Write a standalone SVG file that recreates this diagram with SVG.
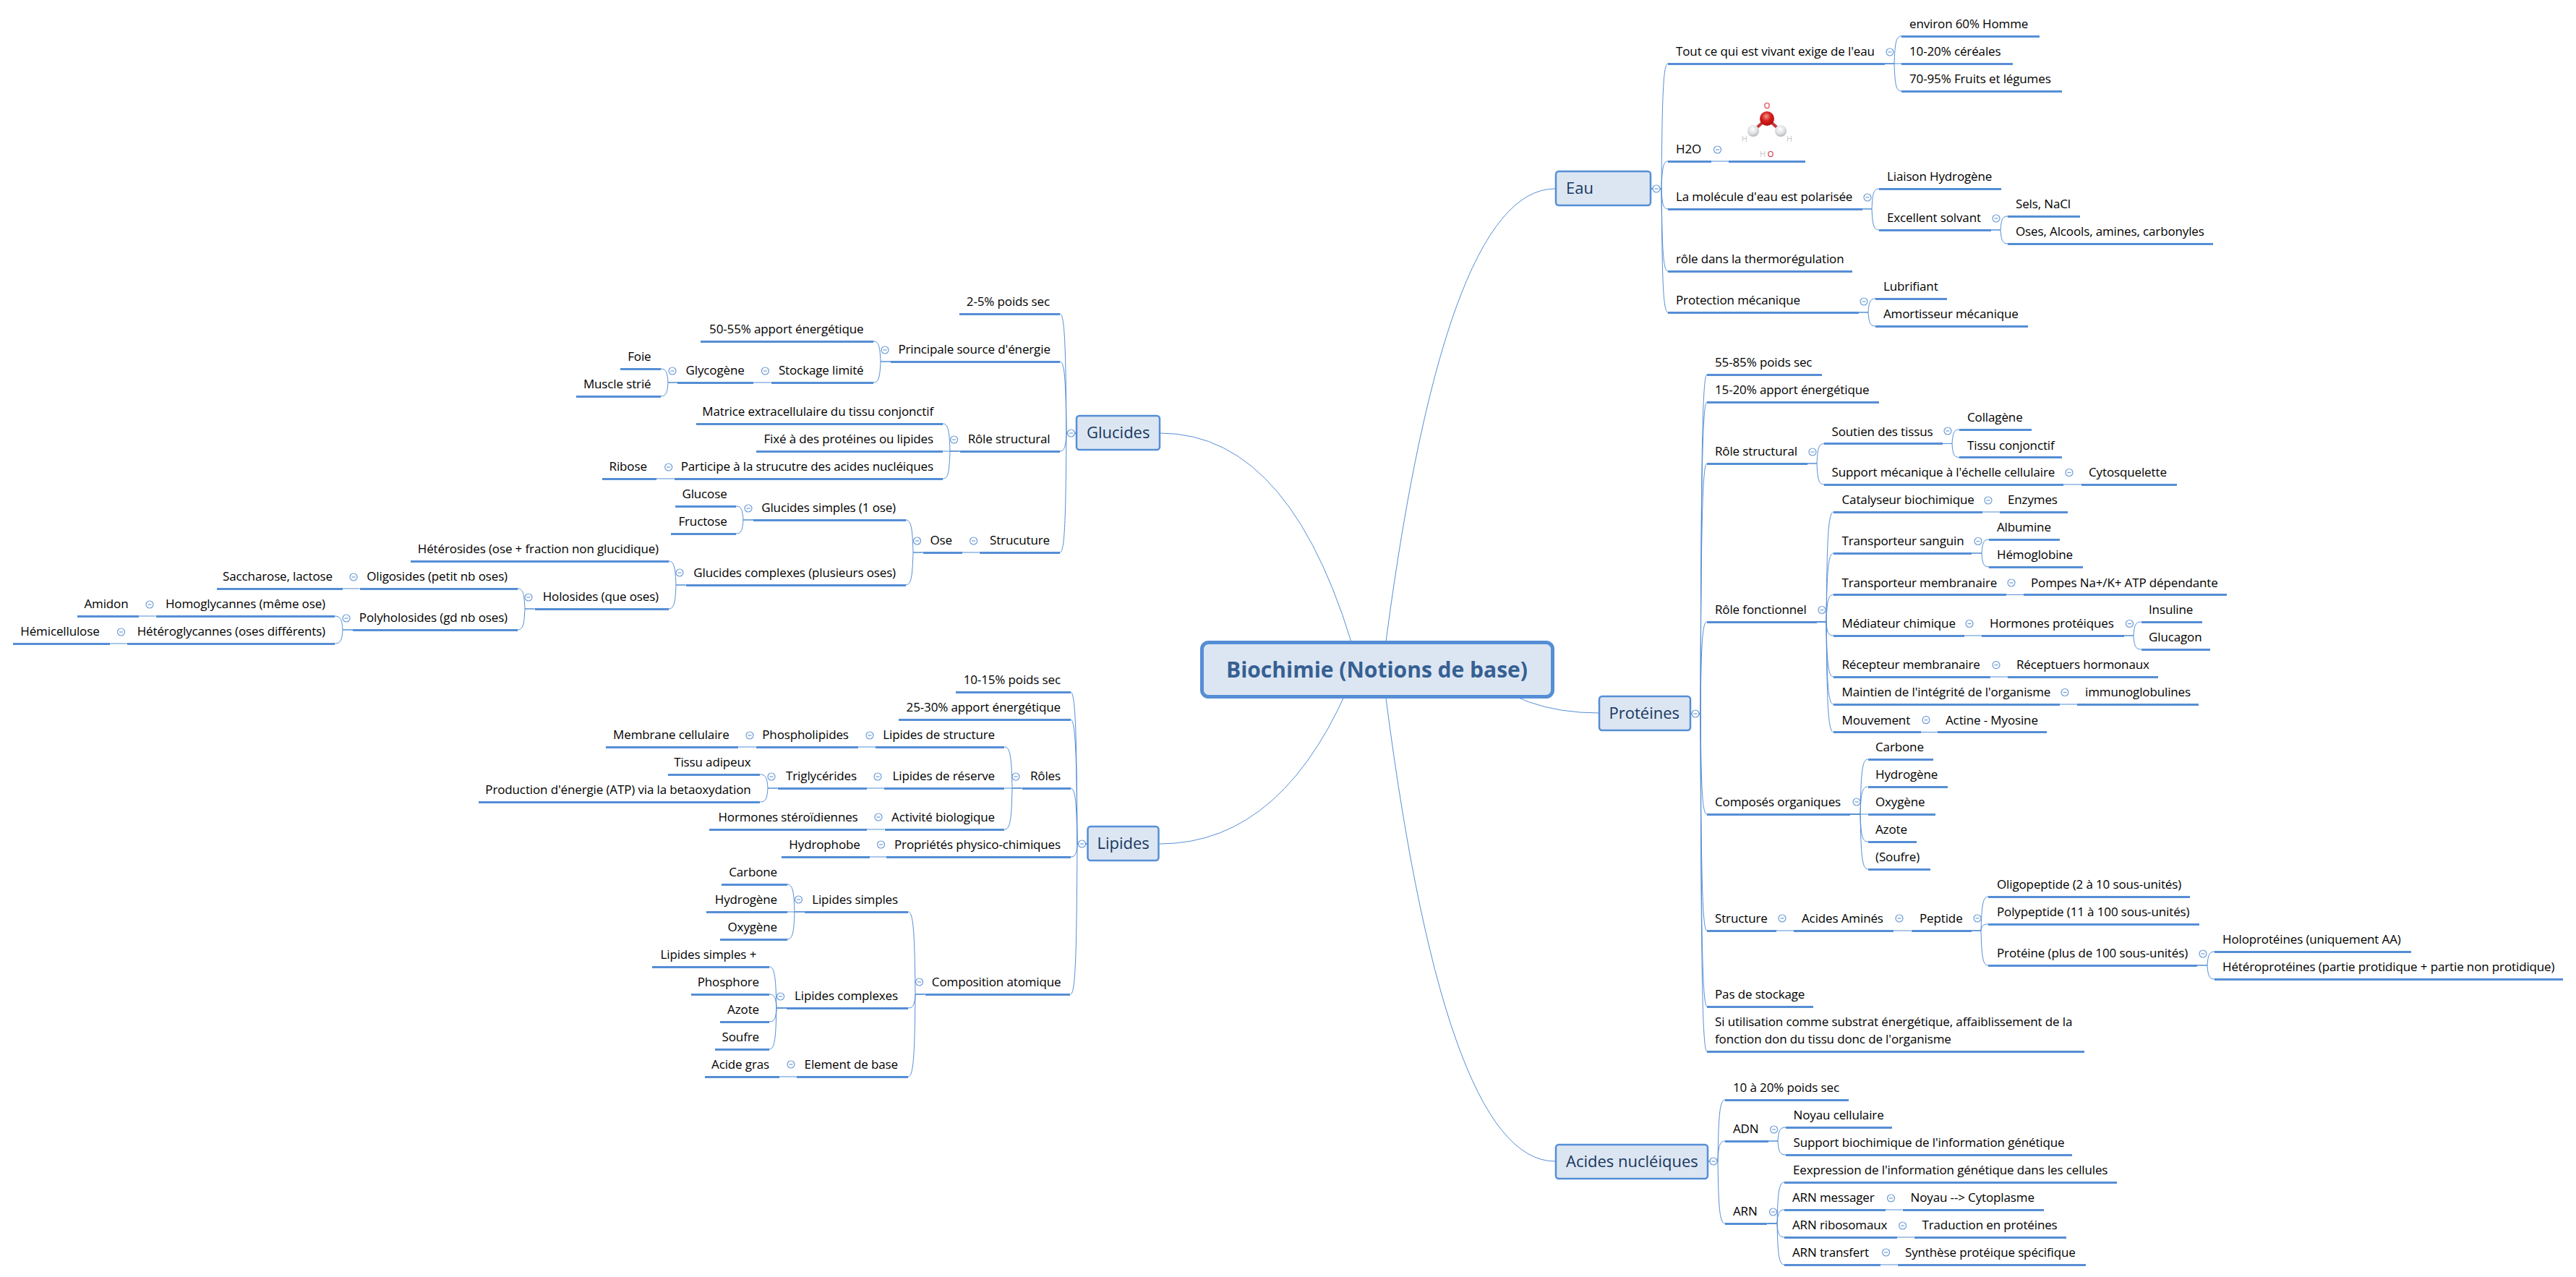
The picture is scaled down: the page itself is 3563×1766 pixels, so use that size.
<svg xmlns="http://www.w3.org/2000/svg" width="3563" height="1766" viewBox="0 0 3563 1766">
<style>
text{font-family:"Open Sans","Noto Sans","Liberation Sans",sans-serif;font-size:17px;letter-spacing:-.13px;fill:#000}
.e{text-anchor:end}
.u{fill:none;stroke:#558ed5;stroke-width:3;shape-rendering:crispEdges}
#connectors path{fill:none;stroke:#558ed5;stroke-width:1}
.b{fill:#dce6f2;stroke:#558ed5;stroke-width:2.5}
.m{font-size:22px;letter-spacing:0;fill:#17375e}
.h{font-size:11px;letter-spacing:0;fill:#c4c8cc}
.r{fill:#d0101a}
</style>
<defs>
<g id="c"><circle r="5" fill="#fff" stroke="#6c9bd8" stroke-width="1.2"/><path d="M-2.500 0H2.500" stroke="#6c9bd8" stroke-width="1.2"/></g>
<radialGradient id="gr" cx=".45" cy=".35" r=".7"><stop offset="0" stop-color="#f09a8a"/><stop offset=".45" stop-color="#d81e1e"/><stop offset="1" stop-color="#a80c0c"/></radialGradient>
<radialGradient id="gw" cx=".45" cy=".35" r=".7"><stop offset="0" stop-color="#fff"/><stop offset=".6" stop-color="#dcdee0"/><stop offset="1" stop-color="#a8acb0"/></radialGradient>
</defs>
<rect width="3563" height="1766" fill="#fff"/>
<g id="connectors">
<path d="M1912 926Q1995 261 2151 261"/>
<path d="M2040 926Q2105 986 2211 986"/>
<path d="M1912 926Q1995 1606 2151 1606"/>
<path d="M1880 926Q1792 599 1605 599"/>
<path d="M1875 926Q1780 1167 1604 1167"/>
<path d="M2284 261H2298C2299 140 2300 88 2307 88"/>
<path d="M2284 261H2298C2299 234 2300 223 2307 223"/>
<path d="M2284 261H2298C2299 281 2300 289 2307 289"/>
<path d="M2284 261H2298C2299 341 2300 375 2307 375"/>
<path d="M2284 261H2298C2299 381 2300 432 2307 432"/>
<path d="M2607 88H2620C2621 61 2622 50 2630 50"/>
<path d="M2607 88H2630"/>
<path d="M2607 88H2620C2621 115 2622 126 2630 126"/>
<path d="M2367 223H2391"/>
<path d="M2576 289H2589C2590 269 2591 261 2599 261"/>
<path d="M2576 289H2589C2590 309 2591 318 2599 318"/>
<path d="M2754 318H2767C2768 305 2769 299 2777 299"/>
<path d="M2754 318H2767C2768 331 2769 337 2777 337"/>
<path d="M2571 432H2584C2585 419 2586 413 2594 413"/>
<path d="M2571 432H2584C2585 445 2586 451 2594 451"/>
<path d="M2338 987H2352C2353 659 2354 518 2361 518"/>
<path d="M2338 987H2352C2353 685 2354 556 2361 556"/>
<path d="M2338 987H2352C2353 745 2354 641 2361 641"/>
<path d="M2338 987H2352C2353 898 2354 860 2361 860"/>
<path d="M2338 987H2352C2353 1084 2354 1126 2361 1126"/>
<path d="M2338 987H2352C2353 1197 2354 1287 2361 1287"/>
<path d="M2338 987H2352C2353 1270 2354 1392 2361 1392"/>
<path d="M2338 987H2352C2353 1314 2354 1454 2361 1454"/>
<path d="M2500 641H2513C2514 622 2515 613.500 2523 613.500"/>
<path d="M2500 641H2513C2514 661 2515 670 2523 670"/>
<path d="M2687 613.500H2700C2701 600 2702 594 2710 594"/>
<path d="M2687 613.500H2700C2701 627 2702 632.500 2710 632.500"/>
<path d="M2854 670H2879"/>
<path d="M2512.500 860H2526C2527 754 2528 708 2536 708"/>
<path d="M2512.500 860H2526C2527 794 2528 765 2536 765"/>
<path d="M2512.500 860H2526C2527 834 2528 822.500 2536 822.500"/>
<path d="M2512.500 860H2526C2527 873 2528 879 2536 879"/>
<path d="M2512.500 860H2526C2527 913 2528 936 2536 936"/>
<path d="M2512.500 860H2526C2527 940 2528 974 2536 974"/>
<path d="M2512.500 860H2526C2527 967 2528 1012.500 2536 1012.500"/>
<path d="M2742 708H2766"/>
<path d="M2727 765H2741C2742 752 2743 746 2751 746"/>
<path d="M2727 765H2741C2742 778 2743 784 2751 784"/>
<path d="M2775 822.500H2799"/>
<path d="M2716.500 879H2741"/>
<path d="M2938 879H2951C2952 866 2953 860 2961.500 860"/>
<path d="M2938 879H2951C2952 892 2953 898 2961.500 898"/>
<path d="M2753 936H2777"/>
<path d="M2848.600 974H2873"/>
<path d="M2656.600 1012.500H2680"/>
<path d="M2559 1126H2573C2574 1073 2575 1050 2583.500 1050"/>
<path d="M2559 1126H2573C2574 1099 2575 1088 2583.500 1088"/>
<path d="M2559 1126H2583.500"/>
<path d="M2559 1126H2573C2574 1153 2575 1164 2583.500 1164"/>
<path d="M2559 1126H2573C2574 1179 2575 1202 2583.500 1202"/>
<path d="M2457 1287H2481"/>
<path d="M2619 1287H2643.500"/>
<path d="M2727 1287H2740C2741 1254 2742 1240 2750 1240"/>
<path d="M2727 1287H2740C2741 1281 2742 1278 2750 1278"/>
<path d="M2727 1287H2740C2741 1321 2742 1335 2750 1335"/>
<path d="M3039 1335H3053C3054 1322 3055 1316 3063 1316"/>
<path d="M3039 1335H3053C3054 1348 3055 1354 3063 1354"/>
<path d="M2363 1606H2376C2377 1547 2378 1521 2386 1521"/>
<path d="M2363 1606H2376C2377 1586 2378 1578 2386 1578"/>
<path d="M2363 1606H2376C2377 1666 2378 1692 2386 1692"/>
<path d="M2445.600 1578H2459C2460 1565 2461 1559 2470 1559"/>
<path d="M2445.600 1578H2459C2460 1591 2461 1597 2470 1597"/>
<path d="M2444.400 1692H2458C2459 1652 2460 1635 2468 1635"/>
<path d="M2444.400 1692H2458C2459 1679 2460 1673 2468 1673"/>
<path d="M2444.400 1692H2458C2459 1705 2460 1711 2468 1711"/>
<path d="M2444.400 1692H2458C2459 1732 2460 1749 2468 1749"/>
<path d="M2607.500 1673H2631.600"/>
<path d="M2623.500 1711H2647.600"/>
<path d="M2600.600 1749H2624.700"/>
<path d="M1488 599H1475C1474 484 1473 434 1466 434"/>
<path d="M1488 599H1475C1474 530 1473 500 1466 500"/>
<path d="M1488 599H1475C1474 616 1473 624 1466 624"/>
<path d="M1488 599H1475C1474 714 1473 764 1466 764"/>
<path d="M1232 500H1218C1217 480 1216 472 1208 472"/>
<path d="M1232 500H1218C1217 520 1216 529 1208 529"/>
<path d="M1066.500 529H1042"/>
<path d="M937.300 529H924C923 516 922 510 913.800 510"/>
<path d="M937.300 529H924C923 542 922 548 913.800 548"/>
<path d="M1327.600 624H1314C1313 597 1312 586 1304 586"/>
<path d="M1327.600 624H1304"/>
<path d="M1327.600 624H1314C1313 651 1312 662 1304 662"/>
<path d="M932.700 662H908"/>
<path d="M1354.600 764H1330.500"/>
<path d="M1276.600 764H1263C1262 733 1261 719 1252.500 719"/>
<path d="M1276.600 764H1263C1262 795 1261 809 1252.500 809"/>
<path d="M1042 719H1028C1027 706 1026 700 1018 700"/>
<path d="M1042 719H1028C1027 732 1026 738 1018 738"/>
<path d="M948.600 809H935C934 786 933 776 924.500 776"/>
<path d="M948.600 809H935C934 832 933 842 924.500 842"/>
<path d="M739.600 842H726C725 822 724 814 715.600 814"/>
<path d="M739.600 842H726C725 862 724 871 715.600 871"/>
<path d="M497.500 814H473.500"/>
<path d="M488 871H474C473 858 472 852 462.700 852"/>
<path d="M488 871H474C473 884 472 890 462.700 890"/>
<path d="M215.600 852H191.500"/>
<path d="M175.800 890H151.700"/>
<path d="M1503.500 1167H1490C1489 1020 1488 957 1480.600 957"/>
<path d="M1503.500 1167H1490C1489 1047 1488 995 1480.600 995"/>
<path d="M1503.500 1167H1490C1489 1113 1488 1090 1480.600 1090"/>
<path d="M1503.500 1167H1490C1489 1180 1488 1185 1480.600 1185"/>
<path d="M1503.500 1167H1490C1489 1313 1488 1375 1480.600 1375"/>
<path d="M1413.600 1090H1400C1399 1050 1398 1033 1389.400 1033"/>
<path d="M1413.600 1090H1389.400"/>
<path d="M1413.600 1090H1400C1399 1130 1398 1147 1389.400 1147"/>
<path d="M1211.400 1033H1187"/>
<path d="M1045.600 1033H1021.400"/>
<path d="M1223 1090H1198.700"/>
<path d="M1075.600 1090H1062C1061 1077 1060 1071 1051.400 1071"/>
<path d="M1075.600 1090H1062C1061 1103 1060 1109 1051.400 1109"/>
<path d="M1223.500 1147H1199"/>
<path d="M1226 1185H1202.500"/>
<path d="M1279.500 1375H1266C1265 1295 1264 1261 1256 1261"/>
<path d="M1279.500 1375H1266C1265 1388 1264 1394 1256 1394"/>
<path d="M1279.500 1375H1266C1265 1455 1264 1489 1256 1489"/>
<path d="M1112.600 1261H1099C1098 1234 1097 1223 1088.500 1223"/>
<path d="M1112.600 1261H1088.500"/>
<path d="M1112.600 1261H1099C1098 1288 1097 1299 1088.500 1299"/>
<path d="M1087.600 1394H1074C1073 1354 1072 1337 1064 1337"/>
<path d="M1087.600 1394H1074C1073 1381 1072 1375 1064 1375"/>
<path d="M1087.600 1394H1074C1073 1407 1072 1413 1064 1413"/>
<path d="M1087.600 1394H1074C1073 1434 1072 1451 1064 1451"/>
<path d="M1102 1489H1078"/>
</g>
<g id="central"><rect x="1662.500" y="888.500" width="485" height="75" rx="9" fill="#dce6f2" stroke="#558ed5" stroke-width="5"/><text x="1904.500" y="937" text-anchor="middle" style="font-size:30px;letter-spacing:0;font-weight:700;fill:#366092">Biochimie (Notions de base)</text></g>
<g id="eau"><rect class="b" x="2152" y="237" width="131" height="47" rx="4"/><text class="m" x="2166" y="268">Eau</text><use href="#c" x="2291" y="261"/></g>
<g id="n001"><path class="u" d="M2307 88H2607"/><text x="2318" y="77">Tout ce qui est vivant exige de l'eau</text><use href="#c" x="2614" y="72"/></g>
<g id="n002"><path class="u" d="M2630 50H2821"/><text x="2641" y="39">environ 60% Homme</text></g>
<g id="n003"><path class="u" d="M2630 88H2784"/><text x="2641" y="77">10-20% céréales</text></g>
<g id="n004"><path class="u" d="M2630 126H2852"/><text x="2641" y="115">70-95% Fruits et légumes</text></g>
<g id="n005"><path class="u" d="M2307 223H2367"/><text x="2318" y="212">H2O</text><use href="#c" x="2375.500" y="207"/></g>
<g id="n006"><path class="u" d="M2391 223H2497"/><path d="M2444 164L2426 180M2444 164L2462 180" stroke="#c4383a" stroke-width="4" fill="none"/><circle cx="2425" cy="181" r="8" fill="url(#gw)"/><circle cx="2463" cy="181" r="8" fill="url(#gw)"/><circle cx="2444" cy="164" r="10" fill="url(#gr)"/><text class="h r" x="2444" y="150" text-anchor="middle" style="fill:#d0101a">O</text><text class="h" x="2412.700" y="196" text-anchor="middle">H</text><text class="h" x="2475" y="196" text-anchor="middle">H</text><text class="h" x="2438" y="217" text-anchor="middle">H</text><text class="h r" x="2449" y="217" text-anchor="middle" style="fill:#d0101a">O</text></g>
<g id="n007"><path class="u" d="M2307 289H2576"/><text x="2318" y="278">La molécule d'eau est polarisée</text><use href="#c" x="2583" y="273"/></g>
<g id="n008"><path class="u" d="M2599 261H2768"/><text x="2610" y="250">Liaison Hydrogène</text></g>
<g id="n009"><path class="u" d="M2599 318H2754"/><text x="2610" y="307">Excellent solvant</text><use href="#c" x="2761" y="302"/></g>
<g id="n010"><path class="u" d="M2777 299H2877"/><text x="2788" y="288">Sels, NaCl</text></g>
<g id="n011"><path class="u" d="M2777 337H3061"/><text x="2788" y="326">Oses, Alcools, amines, carbonyles</text></g>
<g id="n012"><path class="u" d="M2307 375H2562"/><text x="2318" y="364">rôle dans la thermorégulation</text></g>
<g id="n013"><path class="u" d="M2307 432H2571"/><text x="2318" y="421">Protection mécanique</text><use href="#c" x="2578" y="417"/></g>
<g id="n014"><path class="u" d="M2594 413H2693"/><text x="2605" y="402">Lubrifiant</text></g>
<g id="n015"><path class="u" d="M2594 451H2805"/><text x="2605" y="440">Amortisseur mécanique</text></g>
<g id="proteines"><rect class="b" x="2212" y="963" width="126" height="47" rx="4"/><text class="m" x="2225.500" y="994">Protéines</text><use href="#c" x="2345" y="987"/></g>
<g id="n016"><path class="u" d="M2361 518H2520"/><text x="2372" y="507">55-85% poids sec</text></g>
<g id="n017"><path class="u" d="M2361 556H2599"/><text x="2372" y="545">15-20% apport énergétique</text></g>
<g id="n018"><path class="u" d="M2361 641H2500"/><text x="2372" y="630">Rôle structural</text><use href="#c" x="2507" y="625"/></g>
<g id="n019"><path class="u" d="M2523 613.500H2687"/><text x="2533.500" y="602.500">Soutien des tissus</text><use href="#c" x="2694" y="596"/></g>
<g id="n020"><path class="u" d="M2710 594H2810"/><text x="2721" y="583">Collagène</text></g>
<g id="n021"><path class="u" d="M2710 632.500H2852"/><text x="2721" y="621.500">Tissu conjonctif</text></g>
<g id="n022"><path class="u" d="M2523 670H2854"/><text x="2533.500" y="659">Support mécanique à l'échelle cellulaire</text><use href="#c" x="2862" y="653.500"/></g>
<g id="n023"><path class="u" d="M2879 670H3011"/><text x="2889" y="659">Cytosquelette</text></g>
<g id="n024"><path class="u" d="M2361 860H2512.500"/><text x="2372" y="849">Rôle fonctionnel</text><use href="#c" x="2520" y="843.500"/></g>
<g id="n025"><path class="u" d="M2536 708H2742"/><text x="2547.500" y="697">Catalyseur biochimique</text><use href="#c" x="2750" y="692"/></g>
<g id="n026"><path class="u" d="M2766 708H2860"/><text x="2777" y="697">Enzymes</text></g>
<g id="n027"><path class="u" d="M2536 765H2727"/><text x="2547.500" y="754">Transporteur sanguin</text><use href="#c" x="2736" y="748.500"/></g>
<g id="n028"><path class="u" d="M2751 746H2849"/><text x="2762" y="735">Albumine</text></g>
<g id="n029"><path class="u" d="M2751 784H2880.500"/><text x="2762" y="773">Hémoglobine</text></g>
<g id="n030"><path class="u" d="M2536 822.500H2775"/><text x="2547.500" y="811.500">Transporteur membranaire</text><use href="#c" x="2782" y="806"/></g>
<g id="n031"><path class="u" d="M2799 822.500H3080"/><text x="2809" y="811.500">Pompes Na+/K+ ATP dépendante</text></g>
<g id="n032"><path class="u" d="M2536 879H2716.500"/><text x="2547.500" y="868">Médiateur chimique</text><use href="#c" x="2724" y="862.500"/></g>
<g id="n033"><path class="u" d="M2741 879H2938"/><text x="2752" y="868">Hormones protéiques</text><use href="#c" x="2945.500" y="862.500"/></g>
<g id="n034"><path class="u" d="M2961.500 860H3046"/><text x="2972" y="849">Insuline</text></g>
<g id="n035"><path class="u" d="M2961.500 898H3057"/><text x="2972" y="887">Glucagon</text></g>
<g id="n036"><path class="u" d="M2536 936H2753"/><text x="2547.500" y="925">Récepteur membranaire</text><use href="#c" x="2761" y="919.600"/></g>
<g id="n037"><path class="u" d="M2777 936H2985"/><text x="2789" y="925">Réceptuers hormonaux</text></g>
<g id="n038"><path class="u" d="M2536 974H2848.600"/><text x="2547.500" y="963">Maintien de l'intégrité de l'organisme</text><use href="#c" x="2856" y="957.500"/></g>
<g id="n039"><path class="u" d="M2873 974H3041"/><text x="2884" y="963">immunoglobulines</text></g>
<g id="n040"><path class="u" d="M2536 1012.500H2656.600"/><text x="2547.500" y="1001.500">Mouvement</text><use href="#c" x="2664" y="995.700"/></g>
<g id="n041"><path class="u" d="M2680 1012.500H2831"/><text x="2691" y="1001.500">Actine - Myosine</text></g>
<g id="n042"><path class="u" d="M2361 1126H2559"/><text x="2372" y="1115">Composés organiques</text><use href="#c" x="2568" y="1109"/></g>
<g id="n043"><path class="u" d="M2583.500 1050H2674"/><text x="2594" y="1039">Carbone</text></g>
<g id="n044"><path class="u" d="M2583.500 1088H2694"/><text x="2594" y="1077">Hydrogène</text></g>
<g id="n045"><path class="u" d="M2583.500 1126H2676.500"/><text x="2594" y="1115">Oxygène</text></g>
<g id="n046"><path class="u" d="M2583.500 1164H2651"/><text x="2594" y="1153">Azote</text></g>
<g id="n047"><path class="u" d="M2583.500 1202H2669.600"/><text x="2594" y="1191">(Soufre)</text></g>
<g id="n048"><path class="u" d="M2361 1287H2457"/><text x="2372" y="1276">Structure</text><use href="#c" x="2465" y="1270"/></g>
<g id="n049"><path class="u" d="M2481 1287H2619"/><text x="2492" y="1276">Acides Aminés</text><use href="#c" x="2627" y="1270"/></g>
<g id="n050"><path class="u" d="M2643.500 1287H2727"/><text x="2655" y="1276">Peptide</text><use href="#c" x="2735" y="1270"/></g>
<g id="n051"><path class="u" d="M2750 1240H3029"/><text x="2762" y="1229">Oligopeptide (2 à 10 sous-unités)</text></g>
<g id="n052"><path class="u" d="M2750 1278H3042"/><text x="2762" y="1267">Polypeptide (11 à 100 sous-unités)</text></g>
<g id="n053"><path class="u" d="M2750 1335H3039"/><text x="2762" y="1324">Protéine (plus de 100 sous-unités)</text><use href="#c" x="3047" y="1319"/></g>
<g id="n054"><path class="u" d="M3063 1316H3335"/><text x="3074" y="1305">Holoprotéines (uniquement AA)</text></g>
<g id="n055"><path class="u" d="M3063 1354H3545"/><text x="3074" y="1343">Hétéroprotéines (partie protidique + partie non protidique)</text></g>
<g id="n056"><path class="u" d="M2361 1392H2508"/><text x="2372" y="1381">Pas de stockage</text></g>
<g id="n057"><path class="u" d="M2361 1454H2883"/><text x="2372" y="1419">Si utilisation comme substrat énergétique, affaiblissement de la</text><text x="2372" y="1443">fonction don du tissu donc de l'organisme</text></g>
<g id="acides"><rect class="b" x="2152" y="1583" width="210" height="47" rx="4"/><text class="m" x="2166" y="1614">Acides nucléiques</text><use href="#c" x="2370" y="1606"/></g>
<g id="n058"><path class="u" d="M2386 1521H2557"/><text x="2397" y="1510">10 à 20% poids sec</text></g>
<g id="n059"><path class="u" d="M2386 1578H2445.600"/><text x="2397" y="1567">ADN</text><use href="#c" x="2453.600" y="1562"/></g>
<g id="n060"><path class="u" d="M2470 1559H2617"/><text x="2480.600" y="1548">Noyau cellulaire</text></g>
<g id="n061"><path class="u" d="M2470 1597H2866"/><text x="2480.600" y="1586">Support biochimique de l'information génétique</text></g>
<g id="n062"><path class="u" d="M2386 1692H2444.400"/><text x="2397" y="1681">ARN</text><use href="#c" x="2452.500" y="1676"/></g>
<g id="n063"><path class="u" d="M2468 1635H2928"/><text x="2480" y="1624">Eexpression de l'information génétique dans les cellules</text></g>
<g id="n064"><path class="u" d="M2468 1673H2607.500"/><text x="2479" y="1662">ARN messager</text><use href="#c" x="2615.500" y="1657"/></g>
<g id="n065"><path class="u" d="M2631.600 1673H2827"/><text x="2642.500" y="1662">Noyau --&gt; Cytoplasme</text></g>
<g id="n066"><path class="u" d="M2468 1711H2623.500"/><text x="2479" y="1700">ARN ribosomaux</text><use href="#c" x="2631.600" y="1695"/></g>
<g id="n067"><path class="u" d="M2647.600 1711H2858"/><text x="2658.500" y="1700">Traduction en protéines</text></g>
<g id="n068"><path class="u" d="M2468 1749H2600.600"/><text x="2479" y="1738">ARN transfert</text><use href="#c" x="2608.600" y="1732"/></g>
<g id="n069"><path class="u" d="M2624.700 1749H2884.700"/><text x="2635" y="1738">Synthèse protéique spécifique</text></g>
<g id="glucides"><rect class="b" x="1489" y="575" width="115" height="47" rx="4"/><text class="m" x="1503" y="606">Glucides</text><use href="#c" x="1481.500" y="599"/></g>
<g id="n101"><path class="u" d="M1326.500 434H1466"/><text class="e" x="1452" y="423">2-5% poids sec</text></g>
<g id="n102"><path class="u" d="M1232 500H1466"/><text class="e" x="1452.800" y="489">Principale source d'énergie</text><use href="#c" x="1224" y="484"/></g>
<g id="n103"><path class="u" d="M969.400 472H1208"/><text class="e" x="1194.500" y="461">50-55% apport énergétique</text></g>
<g id="n104"><path class="u" d="M1066.500 529H1208"/><text class="e" x="1194.500" y="518">Stockage limité</text><use href="#c" x="1058.400" y="513"/></g>
<g id="n105"><path class="u" d="M937.300 529H1042"/><text class="e" x="1029.700" y="518">Glycogène</text><use href="#c" x="930" y="513"/></g>
<g id="n106"><path class="u" d="M857.500 510H913.800"/><text class="e" x="900.500" y="499">Foie</text></g>
<g id="n107"><path class="u" d="M796.600 548H913.800"/><text class="e" x="900.500" y="537">Muscle strié</text></g>
<g id="n108"><path class="u" d="M1327.600 624H1466"/><text class="e" x="1452.500" y="613">Rôle structural</text><use href="#c" x="1319.600" y="608"/></g>
<g id="n109"><path class="u" d="M962.500 586H1304"/><text class="e" x="1291" y="575">Matrice extracellulaire du tissu conjonctif</text></g>
<g id="n110"><path class="u" d="M1045.800 624H1304"/><text class="e" x="1291" y="613">Fixé à des protéines ou lipides</text></g>
<g id="n111"><path class="u" d="M932.700 662H1304"/><text class="e" x="1291" y="651">Participe à la strucutre des acides nucléiques</text><use href="#c" x="924.700" y="646"/></g>
<g id="n112"><path class="u" d="M832.800 662H908"/><text class="e" x="894.800" y="651">Ribose</text></g>
<g id="n113"><path class="u" d="M1354.600 764H1466"/><text class="e" x="1452" y="753">Strucuture</text><use href="#c" x="1346.600" y="748"/></g>
<g id="n114"><path class="u" d="M1276.600 764H1330.500"/><text class="e" x="1317" y="753">Ose</text><use href="#c" x="1268.500" y="748"/></g>
<g id="n115"><path class="u" d="M1042 719H1252.500"/><text class="e" x="1239" y="708">Glucides simples (1 ose)</text><use href="#c" x="1035" y="703"/></g>
<g id="n116"><path class="u" d="M933.800 700H1018"/><text class="e" x="1005.600" y="689">Glucose</text></g>
<g id="n117"><path class="u" d="M927.500 738H1018"/><text class="e" x="1005.600" y="727">Fructose</text></g>
<g id="n118"><path class="u" d="M948.600 809H1253"/><text class="e" x="1239" y="798">Glucides complexes (plusieurs oses)</text><use href="#c" x="940" y="792"/></g>
<g id="n119"><path class="u" d="M568 776H924.500"/><text class="e" x="911" y="765">Hétérosides (ose + fraction non glucidique)</text></g>
<g id="n120"><path class="u" d="M739.600 842H924.500"/><text class="e" x="911" y="831">Holosides (que oses)</text><use href="#c" x="731" y="826"/></g>
<g id="n121"><path class="u" d="M497.500 814H715.600"/><text class="e" x="702" y="803">Oligosides (petit nb oses)</text><use href="#c" x="489" y="798"/></g>
<g id="n122"><path class="u" d="M300 814H473.500"/><text class="e" x="460" y="803">Saccharose, lactose</text></g>
<g id="n123"><path class="u" d="M488 871H715.600"/><text class="e" x="702" y="860">Polyholosides (gd nb oses)</text><use href="#c" x="479" y="855"/></g>
<g id="n124"><path class="u" d="M215.600 852H462.700"/><text class="e" x="450" y="841">Homoglycannes (même ose)</text><use href="#c" x="207" y="836"/></g>
<g id="n125"><path class="u" d="M107 852H191.500"/><text class="e" x="177.500" y="841">Amidon</text></g>
<g id="n126"><path class="u" d="M175.800 890H462.700"/><text class="e" x="450" y="879">Hétéroglycannes (oses différents)</text><use href="#c" x="167.500" y="874"/></g>
<g id="n127"><path class="u" d="M18 890H151.700"/><text class="e" x="137.600" y="879">Hémicellulose</text></g>
<g id="lipides"><rect class="b" x="1504.500" y="1143" width="98" height="47" rx="4"/><text class="m" x="1517.500" y="1174">Lipides</text><use href="#c" x="1496.500" y="1167"/></g>
<g id="n128"><path class="u" d="M1321.800 957H1480.600"/><text class="e" x="1467" y="946">10-15% poids sec</text></g>
<g id="n129"><path class="u" d="M1242.700 995H1480.600"/><text class="e" x="1467" y="984">25-30% apport énergétique</text></g>
<g id="n130"><path class="u" d="M1413.600 1090H1480.600"/><text class="e" x="1467" y="1079">Rôles</text><use href="#c" x="1405" y="1074"/></g>
<g id="n131"><path class="u" d="M1211.400 1033H1389.400"/><text class="e" x="1376" y="1022">Lipides de structure</text><use href="#c" x="1203" y="1017"/></g>
<g id="n132"><path class="u" d="M1045.600 1033H1187"/><text class="e" x="1173.800" y="1022">Phospholipides</text><use href="#c" x="1037" y="1017"/></g>
<g id="n133"><path class="u" d="M837.700 1033H1021.400"/><text class="e" x="1008.600" y="1022">Membrane cellulaire</text></g>
<g id="n134"><path class="u" d="M1223 1090H1389.400"/><text class="e" x="1376" y="1079">Lipides de réserve</text><use href="#c" x="1214" y="1074"/></g>
<g id="n135"><path class="u" d="M1075.600 1090H1198.700"/><text class="e" x="1185" y="1079">Triglycérides</text><use href="#c" x="1067" y="1074"/></g>
<g id="n136"><path class="u" d="M923.800 1071H1051.400"/><text class="e" x="1038.600" y="1060">Tissu adipeux</text></g>
<g id="n137"><path class="u" d="M661.700 1109H1051.400"/><text class="e" x="1038.600" y="1098">Production d'énergie (ATP) via la betaoxydation</text></g>
<g id="n138"><path class="u" d="M1223.500 1147H1389.400"/><text class="e" x="1376" y="1136">Activité biologique</text><use href="#c" x="1215" y="1130"/></g>
<g id="n139"><path class="u" d="M980.600 1147H1199"/><text class="e" x="1186.600" y="1136">Hormones stéroïdiennes</text></g>
<g id="n140"><path class="u" d="M1226 1185H1480.600"/><text class="e" x="1467" y="1174">Propriétés physico-chimiques</text><use href="#c" x="1218.500" y="1168"/></g>
<g id="n141"><path class="u" d="M1080.700 1185H1202.500"/><text class="e" x="1189.700" y="1174">Hydrophobe</text></g>
<g id="n142"><path class="u" d="M1279.500 1375H1480.400"/><text class="e" x="1467.500" y="1364">Composition atomique</text><use href="#c" x="1271.500" y="1358"/></g>
<g id="n143"><path class="u" d="M1112.600 1261H1256"/><text class="e" x="1242" y="1250">Lipides simples</text><use href="#c" x="1104.500" y="1244"/></g>
<g id="n144"><path class="u" d="M998 1223H1088.500"/><text class="e" x="1075" y="1212">Carbone</text></g>
<g id="n145"><path class="u" d="M977.300 1261H1088.500"/><text class="e" x="1075" y="1250">Hydrogène</text></g>
<g id="n146"><path class="u" d="M995.600 1299H1088.500"/><text class="e" x="1075" y="1288">Oxygène</text></g>
<g id="n147"><path class="u" d="M1087.600 1394H1256"/><text class="e" x="1242" y="1383">Lipides complexes</text><use href="#c" x="1079.600" y="1378"/></g>
<g id="n148"><path class="u" d="M902.300 1337H1064"/><text x="913.500" y="1326">Lipides simples +</text></g>
<g id="n149"><path class="u" d="M956 1375H1064"/><text class="e" x="1050" y="1364">Phosphore</text></g>
<g id="n150"><path class="u" d="M995.600 1413H1064"/><text class="e" x="1050" y="1402">Azote</text></g>
<g id="n151"><path class="u" d="M988.500 1451H1064"/><text class="e" x="1050" y="1440">Soufre</text></g>
<g id="n152"><path class="u" d="M1102 1489H1256"/><text class="e" x="1242" y="1478">Element de base</text><use href="#c" x="1094" y="1472"/></g>
<g id="n153"><path class="u" d="M974.600 1489H1078"/><text class="e" x="1064" y="1478">Acide gras</text></g>
</svg>
